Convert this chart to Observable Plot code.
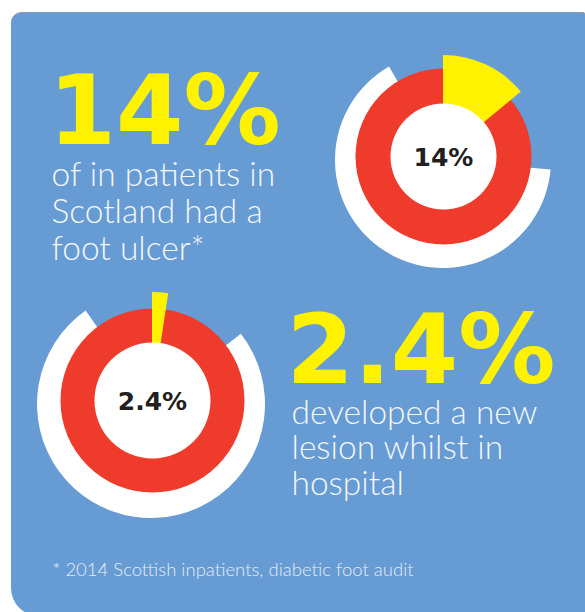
<!DOCTYPE html>
<html><head><meta charset="utf-8">
<script src="https://cdn.jsdelivr.net/npm/d3@7"></script>
<script src="https://cdn.jsdelivr.net/npm/@observablehq/plot@0.6"></script>
<style>
html,body{margin:0;padding:0;background:#fff;}
#wrap{position:relative;width:585px;height:612px;overflow:hidden;}
#card{position:absolute;left:11px;top:12px;right:-1px;bottom:-4px;background:#679bd3;border-radius:11px 4px 0 28px;border-top:1px solid #8798ad;}
#chart{position:absolute;left:0;top:0;}
</style></head><body>
<div id="wrap"><div id="card"></div><div id="chart"></div></div>
<script>
// ---- data ----
const statLabels = ["14%", "2.4%"];
const statShares = [14, 2.4];            // percent
const captionA = ["of in patients in", "Scotland had a", "foot ulcer*"];
const captionB = ["developed a new", "lesion whilst in", "hospital"];
const footnote = "* 2014 Scottish inpatients, diabetic foot audit";

// ---- layout (positions / sizes, not data) ----
const layout = [
  {cx: 443, cy: 156, rOuter: 88, rHole: 53, rSlice: 101, sx: 443, sy: 160, sR: 108, sStart: 95, sEnd: 330,
   bigX: 48, bigBase: 143, capX: 51, capBase: 183, capStep: 37},
  {cx: 152, cy: 400, rOuter: 92, rHole: 58, rSlice: 108, sx: 151, sy: 404, sR: 114, sStart: 52, sEnd: 325,
   bigX: 286, bigBase: 382, capX: 291, capBase: 422, capStep: 35.5}
];
const RED = "#ee3b2b", YELLOW = "#fff200", WHITE = "#ffffff", INK = "#231f20";
const BIG = 97, CAP = 33.5, LABEL = 25, FOOT = 18.5;

const donuts = statLabels.map((label, i) => ({label, share: statShares[i], ...layout[i]}));
const angle = d3.scaleLinear([0, 100], [0, 2 * Math.PI]);
const deg = d => d * Math.PI / 180;

function arcMark(kind) {
  return (index, scales) => {
    const g = d3.create("svg:g");
    for (const d of donuts) {
      let path, cx, cy, fill;
      if (kind === "shadow") {
        path = d3.arc()({innerRadius: d.rHole, outerRadius: d.sR, startAngle: deg(d.sStart), endAngle: deg(d.sEnd)});
        cx = scales.x(d.sx); cy = scales.y(d.sy); fill = WHITE;
      } else {
        path = d3.arc()({innerRadius: 0, outerRadius: d.rSlice, startAngle: 0, endAngle: angle(d.share)});
        cx = scales.x(d.cx); cy = scales.y(d.cy); fill = YELLOW;
      }
      g.append("path").attr("d", path).attr("fill", fill).attr("transform", `translate(${cx},${cy})`);
    }
    return g.node();
  };
}

const captionBlocks = [
  {t: captionA.join("\n"), x: layout[0].capX, base: layout[0].capBase},
  {t: captionB.join("\n"), x: layout[1].capX, base: layout[1].capBase}
];

const plot = Plot.plot({
  width: 585, height: 612,
  margin: 0,
  x: {domain: [0, 585], range: [0, 585], axis: null},
  y: {domain: [0, 612], range: [0, 612], axis: null},
  r: {type: "identity"},
  style: {background: "transparent", overflow: "visible"},
  marks: [
    arcMark("shadow"),
    Plot.dot(donuts, {x: "cx", y: "cy", r: "rOuter", fill: RED, stroke: null}),
    arcMark("slice"),
    Plot.dot(donuts, {x: "cx", y: "cy", r: "rHole", fill: WHITE, stroke: null}),
    Plot.text(donuts, {x: "cx", y: d => d.cy + 1, text: "label", fill: INK, fontSize: LABEL, fontWeight: "bold",
      fontFamily: "DejaVu Sans", textAnchor: "middle"}),
    Plot.text(donuts, {x: "bigX", y: d => d.bigBase - 0.32 * BIG, text: "label", fill: YELLOW, fontSize: BIG,
      fontWeight: "bold", fontFamily: "DejaVu Sans", textAnchor: "start"}),
    Plot.text(captionBlocks.slice(0, 1), {x: "x", y: d => d.base - 0.71 * CAP, text: "t", fill: "#f4f7fb", fontSize: CAP,
      fontWeight: 300, fontFamily: "Lato", textAnchor: "start", lineAnchor: "top", lineHeight: layout[0].capStep / CAP}),
    Plot.text(captionBlocks.slice(1), {x: "x", y: d => d.base - 0.71 * CAP, text: "t", fill: "#f4f7fb", fontSize: CAP,
      fontWeight: 300, fontFamily: "Lato", textAnchor: "start", lineAnchor: "top", lineHeight: layout[1].capStep / CAP}),
    Plot.text([footnote], {x: 52, y: 575 - 0.32 * FOOT, text: d => d, fill: "#e4ecf6", fontSize: FOOT,
      fontWeight: 300, fontFamily: "Lato", textAnchor: "start"})
  ]
});
document.getElementById("chart").append(plot);
</script>
</body></html>
